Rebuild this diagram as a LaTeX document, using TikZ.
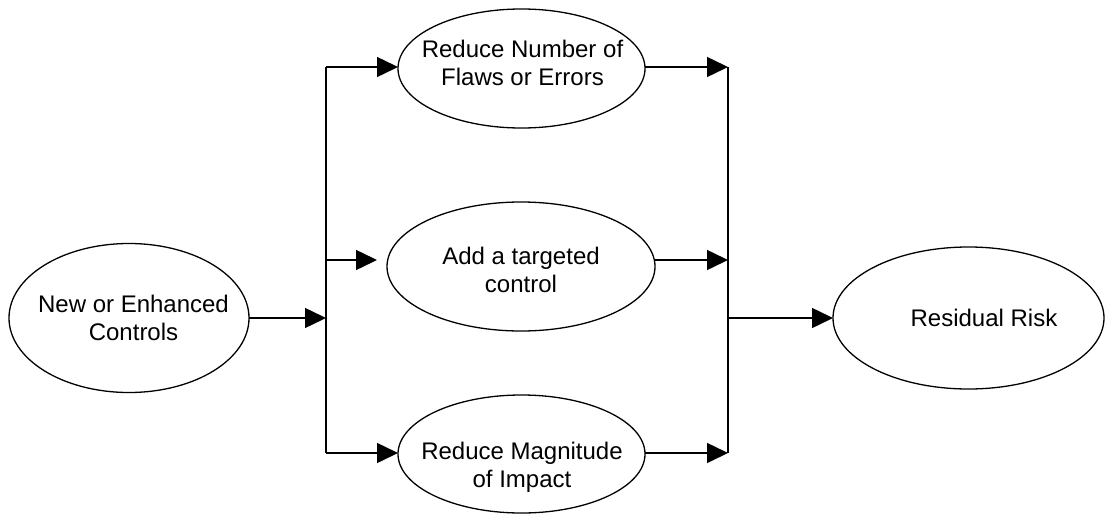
\documentclass[tikz,border=0pt]{standalone}
\usepackage{fontspec}
\setmainfont{Liberation Sans}
\usetikzlibrary{shapes.geometric,arrows.meta,calc}
\begin{document}
\begin{tikzpicture}[x=1pt,y=-1pt,
  oval/.style={ellipse,draw,line width=1.3pt,inner sep=0pt,outer sep=0pt},
  lbl/.style={align=center,inner sep=0pt,font=\fontsize{24pt}{27.5pt}\selectfont},
  link/.style={line width=1.5pt},
  arr/.style={line width=1.5pt,-{Triangle[length=21pt,width=20pt]}}]
\useasboundingbox (0,0) rectangle (1105,514);
% ellipses
\node[oval,minimum width=240pt,minimum height=149pt] (a) at (129,318) {};
\node[oval,minimum width=247pt,minimum height=119pt] (b) at (521.5,68.5) {};
\node[oval,minimum width=268pt,minimum height=129pt] (c) at (521,266.5) {};
\node[oval,minimum width=247pt,minimum height=118pt] (d) at (521.5,454) {};
\node[oval,minimum width=271pt,minimum height=142pt] (e) at (968.5,318) {};
% texts
\node[lbl] (at) at (133.5,318) {New or Enhanced\\Controls};
\node[lbl] (bt) at (522.5,63) {Reduce Number of\\Flaws or Errors};
\node[lbl] (ct) at (521,270) {Add a targeted\\control};
\node[lbl] (dt) at (522,467.5) {Reduce Magnitude\\of Impact};
\node[lbl] (et) at (984,318) {Residual Risk};
% junctions
\coordinate (jlt) at (326,67);
\coordinate (jlm) at (326,260);
\coordinate (jlb) at (326,453);
\coordinate (jrt) at (728,67);
\coordinate (jrm) at (728,260);
\coordinate (jrb) at (728,453);
% left bus
\draw[arr] (a.east) -- (a.east -| jlt);
\draw[link] (jlt) -- (jlb);
\draw[arr] (jlt) -- (jlt -| b.west);
\draw[arr] (jlm) -- ([xshift=-10pt]jlm -| c.west);
\draw[arr] (jlb) -- (jlb -| d.west);
% right bus
\draw[arr] (jrt -| b.east) -- (jrt);
\draw[arr] (jrm -| c.east) -- (jrm);
\draw[arr] (jrb -| d.east) -- (jrb);
\draw[link] (jrt) -- (jrb);
\draw[arr] (jrt |- e.west) -- (e.west);
\end{tikzpicture}
\end{document}
